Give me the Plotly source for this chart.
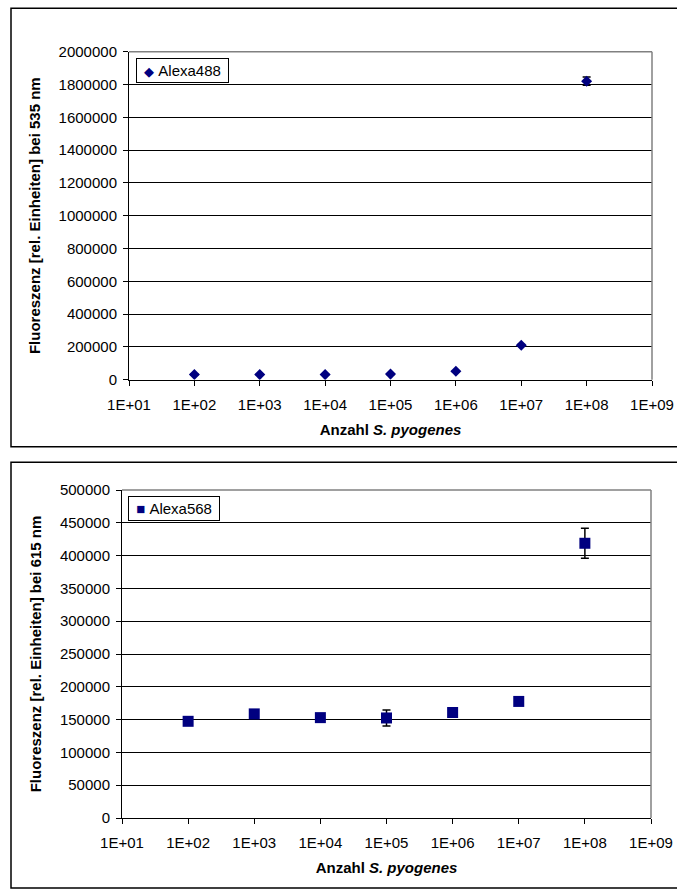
import plotly.graph_objects as go

# ---- data ----
counts = [1e2, 1e3, 1e4, 1e5, 1e6, 1e7, 1e8]
alexa488 = [32000, 31000, 31000, 34000, 51000, 210000, 1820000]
alexa488_err = [3000, 3000, 3000, 3000, 3000, 5000, 25000]
alexa568 = [147400, 158700, 153000, 152500, 160800, 177700, 418800]
alexa568_err = [2000, 3000, 2000, 12300, 2000, 2500, 23000]
series_names = ["Alexa488", "Alexa568"]

x_tickvals = [1e1, 1e2, 1e3, 1e4, 1e5, 1e6, 1e7, 1e8, 1e9]
x_ticktext = ["1E+01", "1E+02", "1E+03", "1E+04", "1E+05", "1E+06", "1E+07", "1E+08", "1E+09"]
y1_ticks = list(range(0, 2000001, 200000))
y2_ticks = list(range(0, 500001, 50000))

W, H = 677, 894
NAVY = "#000080"
FONT = "Liberation Sans, Arial, sans-serif"

fig = go.Figure()

fig.add_trace(go.Scatter(
    x=counts, y=alexa488, mode="markers", name=series_names[0],
    marker=dict(symbol="diamond", size=8.5, color=NAVY, line=dict(width=0)),
    error_y=dict(type="data", array=alexa488_err, visible=True, color="black", thickness=1.5, width=4),
    xaxis="x", yaxis="y", showlegend=False,
))
fig.add_trace(go.Scatter(
    x=counts, y=alexa568, mode="markers", name=series_names[1],
    marker=dict(symbol="square", size=11, color=NAVY, line=dict(width=0)),
    error_y=dict(type="data", array=alexa568_err, visible=True, color="black", thickness=1.5, width=4),
    xaxis="x2", yaxis="y2", showlegend=False,
))

def px_x(v):
    return v / W

def px_y(v):
    return 1 - v / H

common_x = dict(
    type="log", range=[1, 9], tickvals=x_tickvals, ticktext=x_ticktext,
    showgrid=False, showline=True, linecolor="black", linewidth=1,
    ticks="outside", ticklen=5, tickcolor="black",
    tickfont=dict(family=FONT, size=15, color="black"),
    ticklabelstandoff=6, zeroline=False, automargin=False,
)
common_y = dict(
    showgrid=True, gridcolor="black", gridwidth=1,
    showline=True, linecolor="black", linewidth=1,
    ticks="outside", ticklen=5, tickcolor="black",
    tickfont=dict(family=FONT, size=15, color="black"),
    ticklabelstandoff=3, zeroline=False, automargin=False,
)

def xt():
    return dict(text="<b>Anzahl <i>S. pyogenes</i></b>", standoff=12,
                font=dict(family=FONT, size=15, color="black"))

def yt(text):
    return dict(text=f"<b>{text}</b>", standoff=14,
                font=dict(family=FONT, size=15, color="black"))

fig.update_layout(
    width=W, height=H, autosize=False,
    margin=dict(l=0, r=0, t=0, b=0, pad=0, autoexpand=False),
    paper_bgcolor="white", plot_bgcolor="white", showlegend=False,
    xaxis=dict(common_x, domain=[px_x(129), px_x(652)], anchor="y", title=xt()),
    yaxis=dict(common_y, domain=[px_y(379.7), px_y(51.7)], anchor="x", range=[0, 2000000],
               tickvals=y1_ticks, ticktext=[str(v) for v in y1_ticks],
               title=yt("Fluoreszenz [rel. Einheiten] bei 535 nm")),
    xaxis2=dict(common_x, domain=[px_x(122), px_x(651)], anchor="y2", title=xt()),
    yaxis2=dict(common_y, domain=[px_y(818), px_y(490)], anchor="x2", range=[0, 500000],
                tickvals=y2_ticks, ticktext=[str(v) for v in y2_ticks],
                title=yt("Fluoreszenz [rel. Einheiten] bei 615 nm")),
)

# compact Excel-style legend boxes
legend_specs = [(series_names[0], "\u25C6", 135.7, 58.3, 13), (series_names[1], "\u25A0", 128.3, 495.7, 15)]
annotations = []
for name, glyph, lx, ly, gsize in legend_specs:
    annotations.append(dict(
        xref="paper", yref="paper", x=px_x(lx), y=px_y(ly), xanchor="left", yanchor="top",
        text=f"&nbsp;<span style='color:{NAVY};font-size:{gsize}px'>{glyph}</span>&nbsp;{name}&nbsp;",
        showarrow=False, align="left", bordercolor="black", borderwidth=1, borderpad=3,
        bgcolor="white", font=dict(family=FONT, size=15, color="black"),
    ))
fig.update_layout(annotations=annotations)

shapes = []
# outer chart frames (right edge runs off the page)
for top, bot in [(8.3, 446.7), (462.3, 888)]:
    shapes.append(dict(type="rect", xref="paper", yref="paper",
                       x0=px_x(11), x1=1.02, y0=px_y(bot), y1=px_y(top),
                       line=dict(color="black", width=1.5), layer="below"))
# grey top/right plot-area borders
for xa, ya in [("x", "y"), ("x2", "y2")]:
    shapes.append(dict(type="line", xref=f"{xa} domain", yref=f"{ya} domain",
                       x0=0, x1=1, y0=1, y1=1, line=dict(color="#808080", width=1.5), layer="above"))
    shapes.append(dict(type="line", xref=f"{xa} domain", yref=f"{ya} domain",
                       x0=1, x1=1, y0=0, y1=1, line=dict(color="#808080", width=1.5), layer="above"))
fig.update_layout(shapes=shapes)

fig.write_html("out.html")
